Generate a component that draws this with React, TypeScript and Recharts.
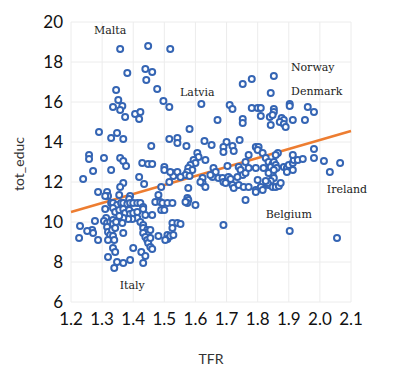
import React from "react";
import {
  ScatterChart, Scatter, XAxis, YAxis, CartesianGrid, ReferenceLine,
} from "recharts";

// [TFR, tot_educ] pairs
const observations: [number, number][] = [
  [1.358, 18.65], [1.448, 18.8], [1.519, 18.65], [1.381, 17.45], [1.439, 17.65], [1.461, 17.5], [1.442, 17.1], [1.477, 16.65], [1.345, 16.6], [1.752, 16.9],
  [1.781, 17.15], [1.852, 17.3], [1.842, 16.45], [1.352, 16.1], [1.497, 16.05], [1.335, 15.75], [1.365, 15.8], [1.358, 15.6], [1.374, 15.25], [1.406, 15.4],
  [1.423, 15.5], [1.419, 15.15], [1.516, 15.75], [1.619, 15.9], [1.71, 15.85], [1.719, 15.65], [1.781, 15.7], [1.8, 15.7], [1.671, 15.1], [1.752, 15.15],
  [1.752, 14.95], [1.581, 14.65], [1.81, 15.7], [1.81, 15.3], [1.852, 15.65], [1.852, 15.5], [1.839, 15.25], [1.848, 15.35], [1.842, 14.85], [1.903, 15.9],
  [1.903, 15.8], [1.961, 15.75], [1.981, 15.5], [1.877, 15.2], [1.884, 15.1], [1.871, 15.0], [1.884, 14.9], [1.89, 14.75], [1.913, 15.1], [1.952, 15.1],
  [1.29, 14.5], [1.348, 14.45], [1.329, 14.2], [1.368, 14.15], [1.516, 14.15], [1.542, 14.2], [1.542, 13.95], [1.458, 13.8], [1.571, 13.8], [1.629, 14.05],
  [1.652, 13.85], [1.7, 14.0], [1.69, 13.75], [1.69, 13.5], [1.719, 13.8], [1.723, 13.55], [1.742, 14.1], [1.794, 13.75], [1.803, 13.75], [1.8, 13.6],
  [1.816, 13.45], [1.771, 13.35], [1.865, 13.45], [1.858, 13.35], [1.981, 13.65], [1.981, 13.2], [2.013, 13.05], [2.065, 12.95], [2.032, 12.5], [1.258, 13.35],
  [1.258, 13.15], [1.306, 13.2], [1.358, 13.2], [1.368, 13.05], [1.377, 12.8], [1.429, 12.95], [1.448, 12.9], [1.461, 12.9], [1.5, 12.75], [1.5, 12.6],
  [1.526, 12.45], [1.529, 12.3], [1.606, 13.45], [1.61, 13.25], [1.594, 13.1], [1.6, 12.95], [1.632, 13.1], [1.584, 12.85], [1.577, 12.7], [1.59, 12.6],
  [1.574, 12.5], [1.568, 12.35], [1.581, 12.3], [1.542, 12.5], [1.552, 12.25], [1.519, 12.5], [1.658, 12.7], [1.665, 12.5], [1.655, 12.25], [1.648, 12.35],
  [1.739, 12.75], [1.745, 12.6], [1.752, 12.35], [1.735, 12.25], [1.761, 12.45], [1.771, 12.7], [1.794, 12.7], [1.703, 12.8], [1.674, 12.2], [1.687, 12.2],
  [1.69, 12.0], [1.703, 12.1], [1.706, 12.25], [1.713, 12.15], [1.697, 11.95], [1.623, 12.2], [1.623, 11.95], [1.632, 11.75], [1.616, 12.0], [1.577, 11.7],
  [1.719, 11.85], [1.723, 11.7], [1.739, 11.85], [1.755, 11.75], [1.771, 11.75], [1.794, 11.6], [1.794, 11.5], [1.816, 11.7], [1.761, 11.1], [1.826, 13.2],
  [1.835, 13.0], [1.848, 12.9], [1.842, 12.75], [1.819, 12.7], [1.852, 13.0], [1.858, 12.85], [1.861, 12.7], [1.884, 12.75], [1.894, 12.7], [1.9, 12.85],
  [1.913, 12.95], [1.916, 13.1], [1.913, 13.35], [1.929, 13.1], [1.945, 13.15], [1.894, 12.5], [1.913, 12.6], [1.848, 12.35], [1.852, 12.2], [1.842, 12.05],
  [1.835, 11.85], [1.848, 11.75], [1.858, 11.75], [1.868, 11.8], [1.874, 11.95], [1.832, 11.95], [1.826, 12.05], [1.835, 12.45], [1.852, 12.6], [1.81, 11.75],
  [1.816, 11.6], [1.271, 12.55], [1.329, 12.6], [1.419, 12.25], [1.368, 11.95], [1.358, 11.75], [1.435, 11.9], [1.49, 11.75], [1.239, 12.15], [1.287, 11.5],
  [1.316, 11.5], [1.319, 11.3], [1.31, 11.3], [1.355, 11.35], [1.39, 11.3], [1.387, 11.15], [1.481, 11.35], [1.471, 11.0], [1.487, 11.0], [1.494, 10.95],
  [1.51, 10.95], [1.526, 10.95], [1.329, 10.95], [1.335, 10.95], [1.348, 10.85], [1.361, 10.95], [1.368, 10.95], [1.381, 10.9], [1.39, 10.95], [1.4, 10.95],
  [1.413, 10.95], [1.423, 10.95], [1.432, 10.75], [1.31, 10.65], [1.335, 10.7], [1.342, 10.5], [1.355, 10.6], [1.368, 10.65], [1.374, 10.45], [1.387, 10.6],
  [1.39, 10.4], [1.4, 10.45], [1.413, 10.5], [1.432, 10.65], [1.439, 10.35], [1.413, 10.2], [1.397, 10.15], [1.384, 10.15], [1.368, 10.2], [1.365, 9.95],
  [1.355, 10.3], [1.49, 10.6], [1.5, 10.6], [1.461, 10.35], [1.277, 10.05], [1.313, 10.2], [1.306, 10.05], [1.316, 9.95], [1.326, 10.0], [1.335, 10.1],
  [1.335, 9.9], [1.345, 10.0], [1.423, 10.0], [1.432, 9.85], [1.432, 9.7], [1.445, 9.6], [1.448, 9.5], [1.455, 9.6], [1.526, 9.95], [1.268, 9.6],
  [1.271, 9.45], [1.287, 9.1], [1.316, 9.75], [1.319, 9.5], [1.326, 9.35], [1.332, 9.6], [1.342, 9.7], [1.335, 9.3], [1.319, 9.1], [1.339, 9.1],
  [1.368, 9.45], [1.432, 9.45], [1.439, 9.25], [1.445, 9.1], [1.448, 8.95], [1.455, 9.2], [1.481, 9.3], [1.51, 9.35], [1.51, 9.15], [1.519, 9.3],
  [1.526, 9.7], [1.335, 8.7], [1.342, 8.5], [1.4, 8.7], [1.455, 8.75], [1.461, 8.65], [1.319, 8.25], [1.348, 8.0], [1.368, 7.95], [1.39, 8.1],
  [1.432, 7.95], [1.339, 7.7], [1.229, 9.8], [1.226, 9.2], [1.252, 9.55], [1.426, 8.5], [1.439, 8.3], [1.574, 11.2], [1.577, 11.1], [1.574, 10.95],
  [1.568, 11.0], [1.6, 10.85], [1.69, 9.85], [1.542, 9.95], [1.552, 9.9], [1.503, 9.1], [1.529, 9.35], [1.516, 12.0], [1.903, 9.55], [2.055, 9.2],
  [1.761, 13.0], [1.8, 12.1],
];

// linear fit end points
const trendTfr = [1.2, 2.1];
const trendEduc = [10.5, 14.55];

// country annotations (text centre)
const countryNames = ["Malta", "Latvia", "Norway", "Denmark", "Ireland", "Belgium", "Italy"];
const countryTfr = [1.326, 1.606, 1.977, 1.99, 2.087, 1.9, 1.397];
const countryEduc = [19.6, 16.5, 17.75, 16.55, 11.65, 10.4, 6.85];

const xTicks = [1.2, 1.3, 1.4, 1.5, 1.6, 1.7, 1.8, 1.9, 2.0, 2.1];
const yTicks = [6, 8, 10, 12, 14, 16, 18, 20];

const points = observations.map(([tfr, educ]) => ({ tfr, educ }));
const labels = countryNames.map((name, i) => ({ name, tfr: countryTfr[i], educ: countryEduc[i] }));

const tickStyle = { fill: "#111", fontSize: 17, fontFamily: "Lato" };

const Dot = (p: any) => (
  <circle cx={p.cx} cy={p.cy} r={3} fill="#fff" stroke="#3565b4" strokeWidth={2} />
);

const CountryText = (p: any) => (
  <text
    x={p.cx} y={p.cy} textAnchor="middle" dominantBaseline="central"
    fontFamily="DejaVu Serif" fontSize={11} fill="#222"
  >
    {p.payload.name}
  </text>
);

export default function App() {
  return (
    <div style={{ position: "absolute", left: 0, top: 0, width: 400, height: 375, background: "#fff" }}>
      <ScatterChart width={400} height={375} margin={{ top: 22, right: 49, bottom: 43, left: 0 }}>
        <CartesianGrid stroke="#ececec" />
        <XAxis
          type="number" dataKey="tfr" domain={[1.2, 2.1]} ticks={xTicks}
          tickFormatter={(v: number) => v.toFixed(1)} tick={tickStyle}
          axisLine={false} tickLine={false} height={30} interval={0} tickMargin={5}
        />
        <YAxis
          type="number" dataKey="educ" domain={[6, 20]} ticks={yTicks}
          tick={tickStyle} axisLine={false} tickLine={false} width={71} interval={0}
        />
        <Scatter data={points} shape={Dot} isAnimationActive={false} />
        <ReferenceLine
          segment={[{ x: trendTfr[0], y: trendEduc[0] }, { x: trendTfr[1], y: trendEduc[1] }]}
          stroke="#ed7d31" strokeWidth={2.5}
        />
        <Scatter data={labels} shape={CountryText} isAnimationActive={false} />
      </ScatterChart>
      <div style={{
        position: "absolute", left: 18, top: 164, transform: "translate(-50%, -50%) rotate(-90deg)",
        fontFamily: "Lato", fontSize: 14, color: "#333", whiteSpace: "nowrap",
      }}>tot_educ</div>
      <div style={{
        position: "absolute", left: 211, top: 358, transform: "translate(-50%, -50%)",
        fontFamily: "Lato", fontSize: 14, color: "#333", whiteSpace: "nowrap",
      }}>TFR</div>
    </div>
  );
}
